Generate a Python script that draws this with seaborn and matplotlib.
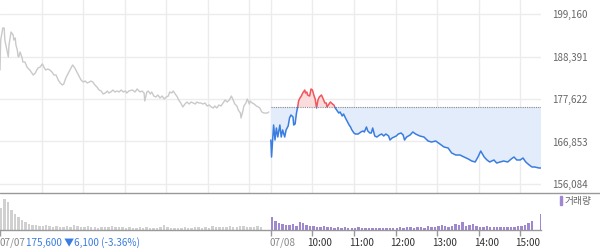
import numpy as np
import pandas as pd
import seaborn as sns
import matplotlib
matplotlib.use("Agg")
import matplotlib.pyplot as plt
import matplotlib.transforms as mtrans
from matplotlib.patches import Rectangle, Patch
from matplotlib.lines import Line2D

sns.set_theme(style="white")
plt.rcParams["font.family"] = ["Noto Sans CJK KR", "DejaVu Sans"]

# ---------------- data ----------------
# previous day (07/07): minutes since 09:00 and price
prev_minutes = [0, 1, 4, 6, 7, 10, 12, 13, 16, 19,
                20, 22, 23, 25, 26, 27, 29, 32, 33, 36,
                39, 40, 43, 46, 48, 51, 53, 55, 58, 61,
                62, 64, 66, 69, 72, 75, 78, 81, 84, 87,
                90, 92, 95, 98, 101, 104, 105, 108, 111, 114,
                117, 120, 123, 126, 129, 131, 134, 137, 140, 143,
                146, 149, 152, 155, 157, 160, 163, 166, 169, 172,
                175, 178, 181, 183, 186, 191, 195, 198, 202, 205,
                208, 209, 212, 214, 217, 219, 222, 225, 228, 231,
                234, 237, 240, 243, 245, 248, 250, 253, 256, 258,
                261, 264, 267, 270, 273, 276, 279, 282, 284, 287,
                290, 293, 296, 299, 302, 305, 308, 310, 313, 316,
                319, 322, 325, 328, 331, 334, 336, 339, 342, 344,
                347, 348, 351, 352, 355, 357, 360, 361, 364, 367,
                370, 373, 375, 378, 381, 386, 388]
prev_prices = [184970, 192570, 195610, 195610, 192570, 190040, 188270, 191310, 194600, 193840,
               192570, 193080, 191310, 190040, 188520, 188270, 189530, 188010, 187000, 187000,
               185730, 185480, 184970, 184210, 183700, 184210, 184970, 185480, 185730, 186490,
               186240, 185480, 184970, 185220, 184970, 184460, 183700, 183700, 182440, 181680,
               181170, 181420, 182940, 183960, 184970, 185980, 186240, 185480, 184460, 183450,
               182440, 181930, 182180, 181680, 181930, 182180, 181930, 181170, 180660, 179900,
               179650, 178890, 179140, 179650, 179140, 179400, 179900, 179400, 179650, 179400,
               179900, 179400, 179650, 179140, 179650, 179900, 179400, 180160, 179400, 179650,
               179140, 177120, 179400, 179650, 178890, 179400, 178380, 178130, 178640, 177870,
               178380, 177620, 178130, 178380, 179400, 179140, 179650, 178890, 178130, 177370,
               176610, 175600, 176350, 176860, 176350, 176860, 176610, 176350, 176860, 176610,
               176610, 176350, 176610, 175850, 176100, 175600, 175340, 175850, 175340, 176100,
               175850, 176610, 177370, 176860, 177370, 178380, 177620, 176350, 175850, 174830,
               174070, 172810, 174830, 175850, 176610, 177620, 176350, 177120, 176610, 176350,
               175850, 175600, 175340, 174330, 174070, 174070, 174330]

# today (07/08)
today_minutes = [0, 1, 4, 6, 8, 10, 13, 15, 17, 20,
                 22, 25, 27, 29, 32, 33, 35, 37, 39, 40,
                 42, 44, 46, 49, 50, 52, 53, 56, 58, 60,
                 62, 64, 66, 68, 70, 73, 75, 78, 80, 81,
                 84, 86, 89, 91, 93, 95, 98, 100, 103, 105,
                 107, 110, 113, 115, 117, 120, 122, 126, 130, 133,
                 135, 138, 140, 143, 145, 147, 150, 153, 157, 160,
                 163, 166, 170, 172, 175, 178, 181, 184, 188, 191,
                 193, 196, 201, 205, 209, 215, 221, 227, 232, 238,
                 244, 250, 256, 261, 267, 273, 279, 285, 290, 295,
                 299, 303, 308, 312, 316, 322, 326, 331, 336, 342,
                 347, 351, 355, 360, 364, 368, 373, 377, 381, 387,
                 390]
today_prices = [167230, 162920, 171030, 167230, 170270, 167990, 171030, 167990, 169770, 167990,
                169770, 170780, 172810, 173570, 173060, 171030, 171290, 174070, 175850, 177120,
                177870, 178380, 179140, 179900, 179140, 179400, 178640, 178380, 180160, 179900,
                178640, 177620, 175340, 177370, 178130, 178640, 177870, 176610, 176610, 175600,
                176350, 176860, 176350, 176100, 175340, 174830, 174070, 174330, 173310, 173820,
                173060, 172050, 171030, 170530, 169770, 169000, 168750, 168750, 169260, 169510,
                169260, 170530, 169510, 169000, 169000, 170270, 168250, 167990, 168500, 168750,
                168250, 168750, 168250, 167230, 167740, 167990, 168250, 168750, 169000, 168500,
                167230, 167990, 168500, 169260, 168750, 168250, 167990, 166980, 166720, 166980,
                166220, 165460, 165200, 163940, 163430, 163430, 162920, 162420, 161910, 161660,
                162920, 164440, 162920, 162170, 161660, 162170, 161400, 161660, 161910, 161660,
                162420, 162920, 162170, 162170, 162670, 161660, 160900, 160390, 160390, 160140,
                160140]

prev_close = 175600
y_ticks = [156084, 166853, 177622, 188391, 199160]
hour_labels = ["10:00", "11:00", "12:00", "13:00", "14:00", "15:00"]
day_labels = ["07/07", "07/08"]
quote_text = "175,600 \u25bc6,100 (-3.36%)"
legend_label = "거래량"

# volume, thousand shares, 5-minute bins from 09:00
prev_volume = [22, 31, 28, 20, 16, 13, 10, 8, 6, 5,
               5, 4, 4, 5, 4, 3, 4, 3, 3, 4,
               3, 5, 4, 3, 3, 4, 3, 3, 2, 3,
               3, 3, 4, 3, 3, 3, 2, 3, 2, 2,
               3, 2, 3, 2, 2, 2, 3, 5, 3, 2,
               2, 2, 2, 3, 2, 2, 3, 3, 2, 3,
               2, 4, 3, 3, 3, 3, 4, 3, 3, 4,
               4, 3, 3, 3, 4, 3]
today_volume = [13, 9, 7, 6, 5, 5, 6, 4, 8, 7,
                5, 4, 4, 3, 3, 4, 3, 3, 2, 3,
                2, 3, 2, 2, 2, 3, 2, 2, 2, 2,
                2, 2, 2, 2, 2, 2, 2, 3, 2, 3,
                3, 2, 3, 3, 2, 4, 3, 3, 4, 5,
                4, 3, 4, 6, 5, 8, 4, 5, 6, 4,
                3, 3, 4, 3, 3, 3, 3, 3, 3, 3,
                3, 4, 4, 5, 7, 9]
closing_volume = 16

# ---------------- layout ----------------
W, H = 600, 248
fig = plt.figure(figsize=(W / 100, H / 100), dpi=100)
fig.patch.set_facecolor("white")

ax = fig.add_axes([0, 1 - 193 / H, 541 / W, 193 / H])
ax2 = fig.add_axes([0, 1 - 229.5 / H, 541 / W, 36.5 / H])

day_offset = 391
x_max = 781
ymin, ymax = 153803, 202708

ax.set_xlim(0, x_max)
ax.set_ylim(ymin, ymax)

grid_c = "#ececec"
for v in y_ticks:
    ax.axhline(v, color=grid_c, lw=1, zorder=0)
for h in range(60, 390, 60):
    ax.axvline(h, color=grid_c, lw=1, zorder=0)
for h in range(0, 390, 60):
    ax.axvline(day_offset + h, color=grid_c, lw=1, zorder=0)

tx = np.array(today_minutes) + day_offset
ty = np.array(today_prices)

ax.fill_between(tx, ty, prev_close, where=ty <= prev_close, interpolate=True,
                color="#e3ecfb", lw=0, zorder=1)
ax.fill_between(tx, ty, prev_close, where=ty >= prev_close, interpolate=True,
                color="#fbdcdc", lw=0, zorder=1)
ax.plot([day_offset, x_max], [prev_close, prev_close], color="#8a8a8a",
        lw=0.8, ls=(0, (1, 1)), zorder=2)

sns.lineplot(x=prev_minutes, y=prev_prices, ax=ax, color="#c9c9c9", lw=1, zorder=3)

sns.lineplot(x=tx, y=ty, ax=ax, color="#3a7de0", lw=1.1, zorder=4)
blue_line = ax.lines[-1]
blue_line.set_clip_path(Rectangle((0, ymin), x_max, prev_close - ymin, transform=ax.transData))
sns.lineplot(x=tx, y=ty, ax=ax, color="#f1565c", lw=1.1, zorder=4)
red_line = ax.lines[-1]
red_line.set_clip_path(Rectangle((0, prev_close), x_max, ymax - prev_close, transform=ax.transData))

ax.yaxis.tick_right()
ax.set_yticks(y_ticks)
ax.set_yticklabels([f"{v:,}" for v in y_ticks])
ax.tick_params(axis="y", length=0, pad=8, labelsize=7, labelcolor="#666666")
ax.set_xticks([])
ax.set_xlabel("")
ax.set_ylabel("")
for s in ax.spines.values():
    s.set_visible(False)

# volume
pv_x = np.arange(len(prev_volume)) * 5
tv_x = np.arange(len(today_volume)) * 5 + day_offset
ax2.bar(pv_x, prev_volume, width=3.5, align="edge", color="#d0d0d0", lw=0)
ax2.bar(tv_x, today_volume, width=3.5, align="edge", color="#9f88cf", lw=0)
ax2.bar([day_offset + 389], [closing_volume], width=1.2, align="edge", color="#9f88cf", lw=0)
ax2.set_xlim(0, x_max)
ax2.set_ylim(0, 36.5)
ax2.set_yticks([])
ax2.set_xticks([0, day_offset] + [day_offset + 60 * k for k in range(1, 7)])
ax2.tick_params(axis="x", length=4, width=1, color="#999999", direction="out",
                bottom=True, labelbottom=False)
for name, s in ax2.spines.items():
    s.set_visible(name == "bottom")
ax2.spines["bottom"].set_color("#999999")
ax2.spines["bottom"].set_linewidth(1)
ax2.patch.set_alpha(0)

fig.add_artist(Line2D([0, 1], [1 - 193 / H] * 2, color="#999999", lw=1,
                      transform=fig.transFigure))

# x labels
blend = mtrans.blended_transform_factory(ax2.transData, fig.transFigure)
label_y = 1 - 242.5 / H
for k, lab in enumerate(hour_labels):
    ax2.text(day_offset + 60 * (k + 1), label_y, lab, fontsize=7.2, color="#333333",
             ha="left", va="center",
             transform=blend + mtrans.ScaledTranslation(-5 / 100, 0, fig.dpi_scale_trans))
ax2.text(day_offset, label_y, day_labels[1], fontsize=7.2, color="#888888", ha="left", va="center",
         transform=blend + mtrans.ScaledTranslation(-1 / 100, 0, fig.dpi_scale_trans))
t1 = ax2.text(0, label_y, day_labels[0], fontsize=7.2, color="#888888", ha="left", va="center",
              transform=blend)
ax2.annotate(quote_text, xy=(1, 0.5), xycoords=t1, ha="left", va="center",
             fontsize=7.2, color="#3a7de0")

# legend
leg = ax2.legend(handles=[Patch(color="#9f88cf")], labels=[legend_label],
                 loc="upper right", bbox_to_anchor=(592 / W, 1 - 196 / H),
                 bbox_transform=fig.transFigure, frameon=False, fontsize=7,
                 handlelength=0.25, handleheight=1.0, handletextpad=0.3,
                 borderpad=0, borderaxespad=0)
for t in leg.get_texts():
    t.set_color("#666666")

fig.savefig("out.png", dpi=100, facecolor="white")
